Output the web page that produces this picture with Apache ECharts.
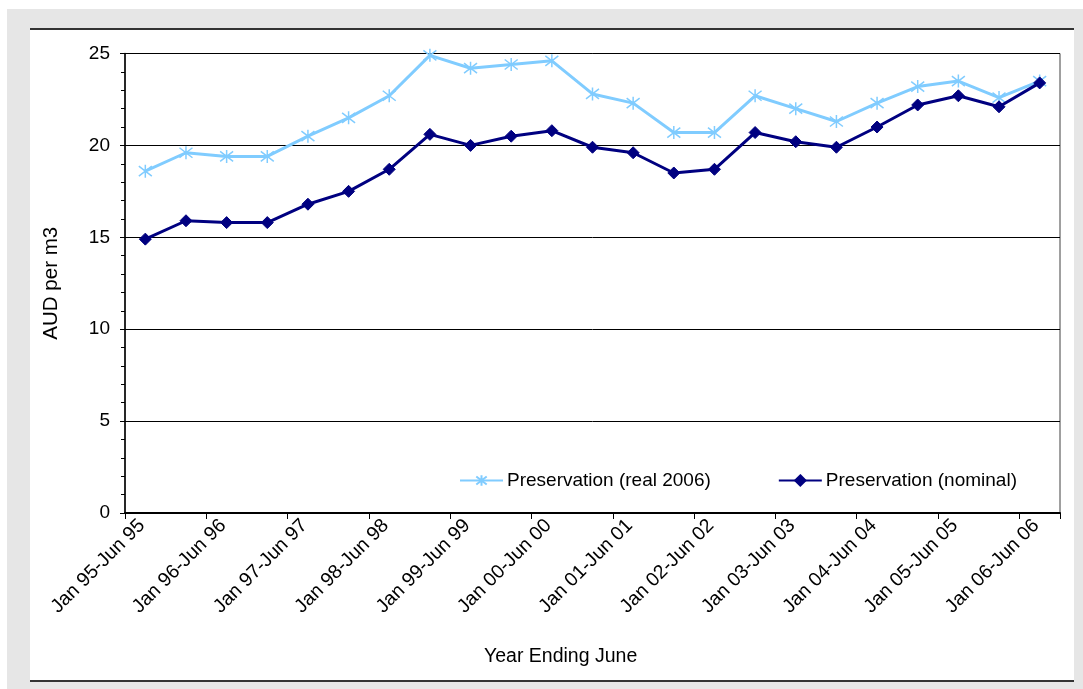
<!DOCTYPE html>
<html>
<head>
<meta charset="utf-8">
<script src="https://cdn.jsdelivr.net/npm/echarts@6/dist/echarts.min.js"></script>
<style>
  html, body { margin: 0; padding: 0; background: #ffffff; }
  body { width: 1083px; height: 689px; position: relative; overflow: hidden; }
  #frame { position: absolute; left: 7px; top: 9px; right: 0; bottom: 0; background: #e6e6e6; }
  #panel { position: absolute; left: 30px; top: 28px; width: 1044px; height: 654px; background: #ffffff;
           border-top: 2px solid #333333; border-bottom: 2px solid #333333; box-sizing: border-box; }
  #chart { position: absolute; left: 0; top: 0; width: 1083px; height: 689px; }
</style>
</head>
<body>
<div id="frame"></div>
<div id="panel"></div>
<div id="chart"></div>
<script>
// Half-year periods, Jan 95-Jun 95 through Jan 06-Jun 06
const periods = [
  'Jan 95-Jun 95', 'Jul 95-Dec 95', 'Jan 96-Jun 96', 'Jul 96-Dec 96',
  'Jan 97-Jun 97', 'Jul 97-Dec 97', 'Jan 98-Jun 98', 'Jul 98-Dec 98',
  'Jan 99-Jun 99', 'Jul 99-Dec 99', 'Jan 00-Jun 00', 'Jul 00-Dec 00',
  'Jan 01-Jun 01', 'Jul 01-Dec 01', 'Jan 02-Jun 02', 'Jul 02-Dec 02',
  'Jan 03-Jun 03', 'Jul 03-Dec 03', 'Jan 04-Jun 04', 'Jul 04-Dec 04',
  'Jan 05-Jun 05', 'Jul 05-Dec 05', 'Jan 06-Jun 06'
];

// AUD per m3
const preservationReal = [
  18.6, 19.6, 19.4, 19.4, 20.5, 21.5, 22.7, 24.9, 24.2, 24.4, 24.6, 22.8,
  22.3, 20.7, 20.7, 22.7, 22.0, 21.3, 22.3, 23.2, 23.5, 22.6, 23.5
];
const preservationNominal = [
  14.9, 15.9, 15.8, 15.8, 16.8, 17.5, 18.7, 20.6, 20.0, 20.5, 20.8, 19.9,
  19.6, 18.5, 18.7, 20.7, 20.2, 19.9, 21.0, 22.2, 22.7, 22.1, 23.4
];

const seriesNames = ['Preservation (real 2006)', 'Preservation (nominal)'];
const yTicks = [0, 5, 10, 15, 20, 25];

const FONT = "'Liberation Sans', Arial, sans-serif";
const REAL_COLOR = '#80ccff';
const NOMINAL_COLOR = '#000080';
// six-armed asterisk marker
const ASTERISK = 'path://M0,0L10,10M10,0L0,10M5,-1.5L5,11.5';

const chart = echarts.init(document.getElementById('chart'), null, { renderer: 'canvas' });

chart.setOption({
  backgroundColor: 'transparent',
  animation: false,
  textStyle: { fontFamily: FONT, color: '#000' },
  grid: {
    left: 125, right: 23, top: 53.5, bottom: 176,
    show: true, borderColor: '#404040', borderWidth: 1, backgroundColor: 'transparent'
  },
  legend: {
    data: seriesNames,
    left: 454,
    top: 466,
    itemWidth: 43,
    itemHeight: 13,
    itemGap: 67,
    textStyle: { fontFamily: FONT, fontSize: 19, color: '#000', padding: [0, 0, 0, -1] }
  },
  xAxis: {
    type: 'category',
    data: periods,
    boundaryGap: true,
    axisLine: { lineStyle: { color: '#000', width: 2 } },
    axisTick: { show: true, interval: 1, length: 6, lineStyle: { color: '#000', width: 1 } },
    axisLabel: {
      interval: 1, rotate: 45, margin: 6, padding: [0, 5, 0, 0],
      fontFamily: FONT, fontSize: 19.5, color: '#000'
    },
    splitLine: { show: false }
  },
  yAxis: {
    type: 'value',
    min: yTicks[0],
    max: yTicks[yTicks.length - 1],
    interval: 5,
    name: 'AUD per m3',
    nameLocation: 'middle',
    nameGap: 63,
    nameTextStyle: { fontFamily: FONT, fontSize: 20.5, color: '#000' },
    axisLine: { show: true, lineStyle: { color: '#000', width: 1.5 } },
    axisTick: { show: true, length: 5, lineStyle: { color: '#000', width: 1 } },
    minorTick: { show: true, splitNumber: 5, length: 4, lineStyle: { color: '#000', width: 1 } },
    axisLabel: { margin: 15, fontFamily: FONT, fontSize: 19, color: '#000' },
    splitLine: { show: true, lineStyle: { color: '#000', width: 1 } }
  },
  graphic: [{
    type: 'text',
    left: 484,
    top: 647,
    style: { text: 'Year Ending June', font: '19.5px ' + FONT, fill: '#000' }
  }],
  series: [
    {
      name: seriesNames[0],
      type: 'line',
      data: preservationReal,
      symbol: ASTERISK,
      symbolSize: 13,
      showSymbol: true,
      lineStyle: { color: REAL_COLOR, width: 3 },
      itemStyle: { color: REAL_COLOR, borderColor: REAL_COLOR, borderWidth: 1.5 },
      z: 2
    },
    {
      name: seriesNames[1],
      type: 'line',
      data: preservationNominal,
      symbol: 'diamond',
      symbolSize: 12,
      showSymbol: true,
      lineStyle: { color: NOMINAL_COLOR, width: 3 },
      itemStyle: { color: NOMINAL_COLOR, borderColor: NOMINAL_COLOR, borderWidth: 1 },
      z: 3
    }
  ]
});
</script>
</body>
</html>
